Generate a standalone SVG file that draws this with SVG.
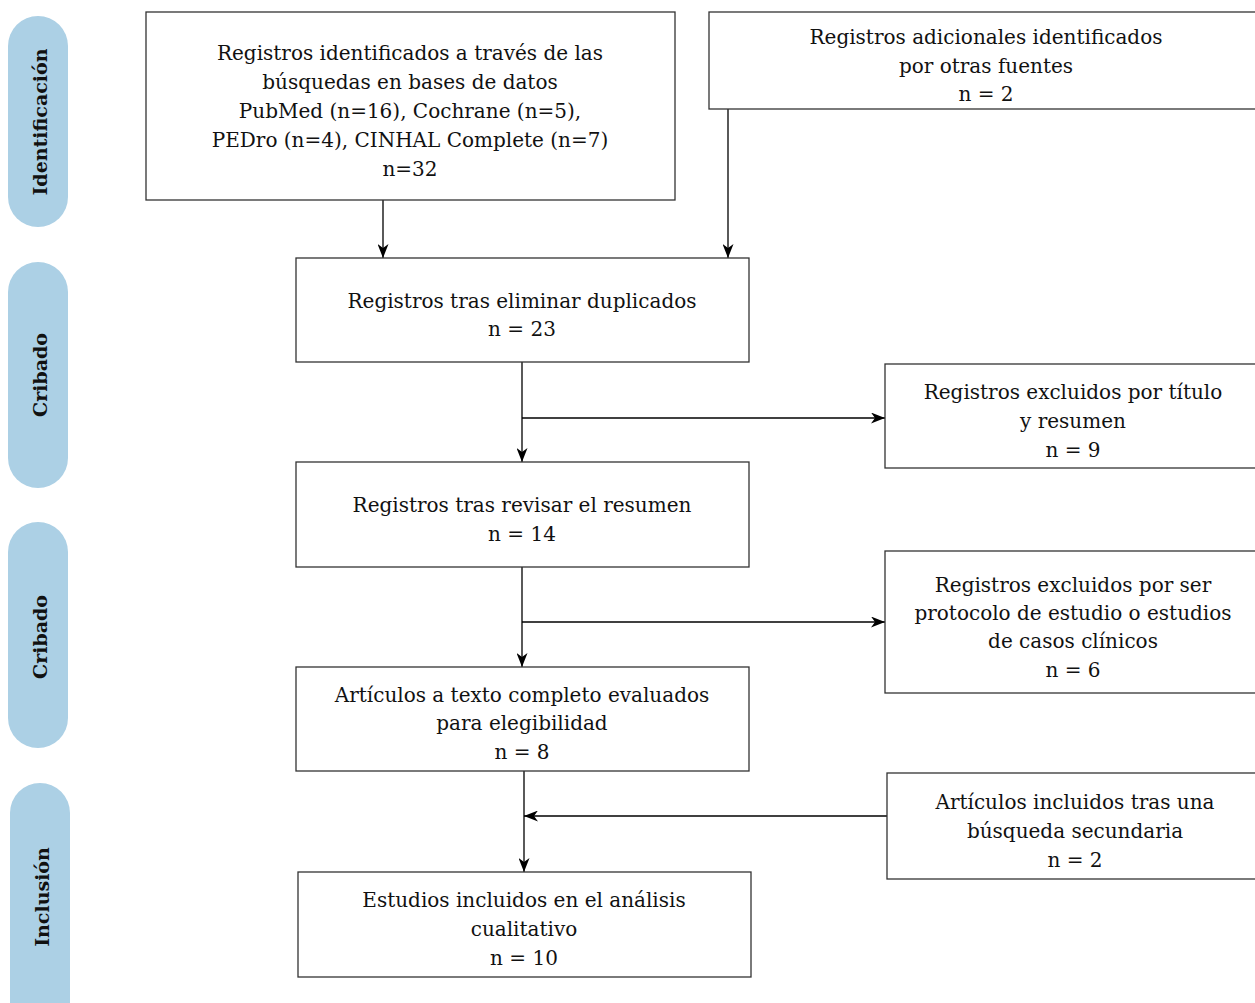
<svg xmlns="http://www.w3.org/2000/svg" width="1255" height="1003" viewBox="0 0 1255 1003">
  <defs>
    <marker id="arrow" viewBox="0 0 14 11" refX="14" refY="5.5" markerWidth="14" markerHeight="11" markerUnits="userSpaceOnUse" orient="auto">
      <path d="M0,0 L14,5.5 L0,11 L4,5.5 Z" fill="#000"/>
    </marker>
  </defs>
  <style>
    .box { fill: #fff; stroke: #333; stroke-width: 1.3; }
    .pill { fill: #acd0e5; }
    .t { font-family: "DejaVu Serif", "Liberation Serif", serif; font-size: 20px; fill: #111; text-anchor: middle; }
    .phase { font-family: "DejaVu Serif", "Liberation Serif", serif; font-size: 19px; font-weight: bold; fill: #111; text-anchor: middle; dominant-baseline: central; }
    .edge { fill: none; stroke: #000; stroke-width: 1.3; }
  </style>
  <rect width="1255" height="1003" fill="#fff"/>

  <!-- phase labels -->
  <g id="phase-identificacion">
    <rect class="pill" x="8" y="16" width="60" height="211" rx="30"/>
    <text class="phase" transform="translate(40,122) rotate(-90)">Identificación</text>
  </g>
  <g id="phase-cribado-1">
    <rect class="pill" x="8" y="262" width="60" height="226" rx="30"/>
    <text class="phase" transform="translate(40,375) rotate(-90)">Cribado</text>
  </g>
  <g id="phase-cribado-2">
    <rect class="pill" x="8" y="522" width="60" height="226" rx="30"/>
    <text class="phase" transform="translate(40,637) rotate(-90)">Cribado</text>
  </g>
  <g id="phase-inclusion">
    <rect class="pill" x="10" y="783" width="60" height="250" rx="30"/>
    <text class="phase" transform="translate(42,897) rotate(-90)">Inclusión</text>
  </g>

  <!-- connectors -->
  <g id="connectors">
    <line class="edge" x1="383" y1="200" x2="383" y2="258" marker-end="url(#arrow)"/>
    <line class="edge" x1="728" y1="109" x2="728" y2="258" marker-end="url(#arrow)"/>
    <line class="edge" x1="522" y1="362" x2="522" y2="462" marker-end="url(#arrow)"/>
    <line class="edge" x1="522" y1="418" x2="885" y2="418" marker-end="url(#arrow)"/>
    <line class="edge" x1="522" y1="567" x2="522" y2="667" marker-end="url(#arrow)"/>
    <line class="edge" x1="522" y1="622" x2="885" y2="622" marker-end="url(#arrow)"/>
    <line class="edge" x1="524" y1="771" x2="524" y2="872" marker-end="url(#arrow)"/>
    <line class="edge" x1="887" y1="816" x2="524" y2="816" marker-end="url(#arrow)"/>
  </g>

  <!-- nodes -->
  <g id="n-bases-datos">
    <rect class="box" x="146" y="12" width="529" height="188"/>
    <text class="t" x="410" y="60">Registros identificados a través de las</text>
    <text class="t" x="410" y="89">búsquedas en bases de datos</text>
    <text class="t" x="410" y="118">PubMed (n=16), Cochrane (n=5),</text>
    <text class="t" x="410" y="147">PEDro (n=4), CINHAL Complete (n=7)</text>
    <text class="t" x="410" y="176">n=32</text>
  </g>
  <g id="n-otras-fuentes">
    <rect class="box" x="709" y="12" width="560" height="97"/>
    <text class="t" x="986" y="44">Registros adicionales identificados</text>
    <text class="t" x="986" y="73">por otras fuentes</text>
    <text class="t" x="986" y="101">n = 2</text>
  </g>
  <g id="n-sin-duplicados">
    <rect class="box" x="296" y="258" width="453" height="104"/>
    <text class="t" x="522" y="308">Registros tras eliminar duplicados</text>
    <text class="t" x="522" y="336">n = 23</text>
  </g>
  <g id="n-excluidos-titulo">
    <rect class="box" x="885" y="364" width="380" height="104"/>
    <text class="t" x="1073" y="399">Registros excluidos por título</text>
    <text class="t" x="1073" y="428">y resumen</text>
    <text class="t" x="1073" y="457">n = 9</text>
  </g>
  <g id="n-tras-resumen">
    <rect class="box" x="296" y="462" width="453" height="105"/>
    <text class="t" x="522" y="512">Registros tras revisar el resumen</text>
    <text class="t" x="522" y="541">n = 14</text>
  </g>
  <g id="n-excluidos-protocolo">
    <rect class="box" x="885" y="551" width="380" height="142"/>
    <text class="t" x="1073" y="592">Registros excluidos por ser</text>
    <text class="t" x="1073" y="620">protocolo de estudio o estudios</text>
    <text class="t" x="1073" y="648">de casos clínicos</text>
    <text class="t" x="1073" y="677">n = 6</text>
  </g>
  <g id="n-texto-completo">
    <rect class="box" x="296" y="667" width="453" height="104"/>
    <text class="t" x="522" y="702">Artículos a texto completo evaluados</text>
    <text class="t" x="522" y="730">para elegibilidad</text>
    <text class="t" x="522" y="759">n = 8</text>
  </g>
  <g id="n-busqueda-secundaria">
    <rect class="box" x="887" y="773" width="380" height="106"/>
    <text class="t" x="1075" y="809">Artículos incluidos tras una</text>
    <text class="t" x="1075" y="838">búsqueda secundaria</text>
    <text class="t" x="1075" y="867">n = 2</text>
  </g>
  <g id="n-incluidos">
    <rect class="box" x="298" y="872" width="453" height="105"/>
    <text class="t" x="524" y="907">Estudios incluidos en el análisis</text>
    <text class="t" x="524" y="936">cualitativo</text>
    <text class="t" x="524" y="965">n = 10</text>
  </g>
</svg>
